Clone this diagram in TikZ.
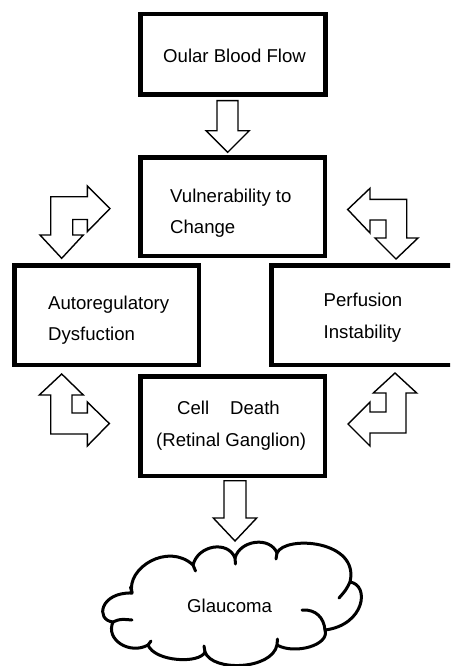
\documentclass[tikz,border=0pt]{standalone}
\usepackage{fontspec}
\setmainfont{Liberation Sans}
\begin{document}
\begin{tikzpicture}[x=1pt,y=-1pt,
  box/.style={draw=black, line width=4.5pt, inner sep=0pt, fill=white},
  lbl/.style={anchor=base west, inner sep=0pt, font=\fontsize{18.6}{22}\selectfont},
  blockarrow/.style={draw=black, fill=white, line width=1.4pt, line join=miter},
  cloudline/.style={draw=black, line width=3pt, line cap=round, line join=round}]
\useasboundingbox (0,0) rectangle (450,666);
\clip (0,0) rectangle (450,666);
\fill[white] (0,0) rectangle (450,666);

% boxes
\node[box, minimum width=185pt, minimum height=80.5pt] (top)  at (233,54.5) {};
\node[box, minimum width=184.5pt, minimum height=98.5pt] (vuln) at (232.5,206.5) {};
\node[box, minimum width=184.5pt, minimum height=99.5pt] (auto) at (106.5,315) {};
\node[box, minimum width=200pt, minimum height=99.5pt] (perf) at (371.25,315) {};
\node[box, minimum width=184.5pt, minimum height=99.5pt] (cell) at (232.5,426) {};

% texts
\node[lbl] (tTop) at (163,63) {Oular Blood Flow};
\node[lbl] (tVa) at (170,202) {Vulnerability to};
\node[lbl] (tVb) at (170,233) {Change};
\node[lbl] (tAa) at (48,309) {Autoregulatory};
\node[lbl] (tAb) at (48,340.5) {Dysfuction};
\node[lbl] (tPa) at (323.5,306) {Perfusion};
\node[lbl] (tPb) at (323.5,338) {Instability};
\node[lbl] (tCa) at (177,414) {Cell};
\node[lbl] (tCb) at (230,414) {Death};
\node[lbl] (tCc) at (156,446) {(Retinal Ganglion)};

% straight block arrows
\draw[blockarrow] (217,100.7) -- (238,100.7) -- (238,130.7) -- (249.3,130.7) -- (227.7,152.3) -- (206,130.7) -- (217,130.7) -- cycle;
\draw[blockarrow] (224,480.7) -- (246,480.7) -- (246,518) -- (256.7,518) -- (235,541) -- (213.3,518) -- (224,518) -- cycle;

% bent double arrows
\draw[blockarrow] (50.7,196.7) -- (87.3,196.7) -- (87.3,186) -- (110,208.5) -- (87.3,231.7) -- (87.3,219.5) -- (72.7,219.5) -- (72.7,235) -- (83.3,235) -- (61.7,258.3) -- (40,235) -- (50.7,235) -- cycle;
\draw[blockarrow] (347.7,209.5) -- (370,188.3) -- (370,199.3) -- (406.7,199.3) -- (406.7,238) -- (418,238) -- (396,259) -- (375,238) -- (386,238) -- (386,220) -- (370,220) -- (370,233) -- cycle;
\draw[blockarrow] (61.7,374) -- (83.3,395) -- (72,395) -- (72,413) -- (87.3,413) -- (87.3,402) -- (109.3,423.5) -- (87.3,446) -- (87.3,434) -- (50.7,434) -- (50.7,395) -- (39.3,395) -- cycle;
\draw[blockarrow] (395,373) -- (416.7,393) -- (406,393) -- (406,433) -- (370,433) -- (370,446) -- (348,424) -- (370,402) -- (370,412) -- (386,412) -- (386,393) -- (373.3,393) -- cycle;

% cloud
\coordinate (glc) at (230,607);
\draw[cloudline, fill=white] (132,593)
  .. controls (126,568) and (168,542) .. (193,565)
  .. controls (198,545) and (228,540) .. (235,558)
  .. controls (240,540) and (270,536) .. (277,553)
  .. controls (285,535) and (360,540) .. (350,582)
  .. controls (370,585) and (365,625) .. (325,630)
  .. controls (330,645) and (295,655) .. (277,645)
  .. controls (272,670) and (212,672) .. (205,652)
  .. controls (200,664) and (155,662) .. (148,645)
  .. controls (130,655) and (105,640) .. (113,622)
  .. controls (95,620) and (100,592) .. (132,593) -- cycle;
% inner arcs of the cloud
\draw[cloudline] (193,565) -- (195.5,571);
\draw[cloudline] (235,558) -- (235.5,564);
\draw[cloudline] (277,553) -- (276,559);
\draw[cloudline] (350,582) .. controls (346,590) .. (339,598);
\draw[cloudline] (302,610) .. controls (316,609) and (324,618) .. (325,630);
\draw[cloudline] (277,645) -- (277.5,639);
\draw[cloudline] (205,652) -- (204,646);
\draw[cloudline] (148,645) -- (151,641);
\draw[cloudline] (113,622) .. controls (120,619) .. (132,620);
\draw[cloudline] (132,593) -- (130.5,587);
\node[lbl] (tG) at (187,612) {Glaucoma};
\end{tikzpicture}
\end{document}
